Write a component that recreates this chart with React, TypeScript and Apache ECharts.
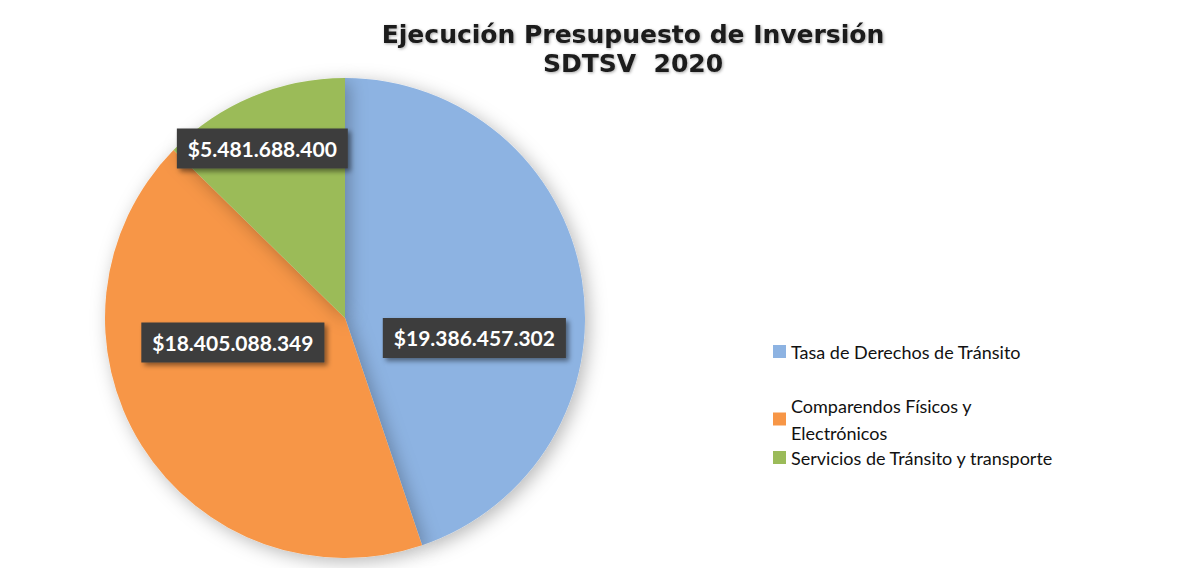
import React, { useEffect, useRef } from "react";
import * as echarts from "echarts";

const categories = [
  "Tasa de Derechos de Tránsito",
  "Comparendos Físicos y Electrónicos",
  "Servicios de Tránsito y transporte",
];
const values = [19386457302, 18405088349, 5481688400];
const colors = ["#8DB3E2", "#F79646", "#9BBB59"];
const labelOffsets = [
  [8, 40],
  [-8, -41],
  [-35, -56],
];
const legendLabels: Record<string, string> = {
  "Comparendos Físicos y Electrónicos": "Comparendos Físicos y\nElectrónicos",
};

function fmt(v: number): string {
  return "$" + String(Math.round(v)).replace(/\B(?=(\d{3})+(?!\d))/g, ".");
}

export default function App() {
  const ref = useRef<HTMLDivElement>(null);
  useEffect(() => {
    document.body.style.margin = "0";
    const chart = echarts.init(ref.current!, undefined, { renderer: "svg" });
    const legendTops = [333, 387, 439];
    chart.setOption({
      animation: false,
      backgroundColor: "#ffffff",
      color: colors,
      title: {
        text: "Ejecución Presupuesto de Inversión\nSDTSV  2020",
        left: 628,
        textAlign: "center",
        top: 15,
        textStyle: {
          fontFamily: "DejaVu Sans",
          fontWeight: "bold",
          fontSize: 25,
          lineHeight: 29,
          color: "#1a1a1a",
          textShadowColor: "rgba(0,0,0,0.35)",
          textShadowBlur: 3,
          textShadowOffsetX: 1,
          textShadowOffsetY: 1,
        },
      },
      legend: categories.map((c, i) => ({
        orient: "vertical",
        left: 768,
        top: legendTops[i],
        data: [c],
        icon: "rect",
        itemWidth: 13,
        itemHeight: 13,
        itemGap: 0,
        selectedMode: false,
        formatter: (n: string) => legendLabels[n] || n,
        textStyle: {
          fontFamily: "Lato",
          fontSize: 18,
          lineHeight: 27,
          color: "#111",
          padding: [0, 0, 0, 0],
        },
      })),
      series: [
        {
          type: "pie",
          center: [345, 318],
          radius: [0, 240],
          startAngle: 90,
          clockwise: true,
          data: categories.map((c, i) => ({ name: c, value: values[i] })),
          itemStyle: {
            shadowBlur: 18,
            shadowColor: "rgba(0,0,0,0.28)",
            shadowOffsetX: 4,
            shadowOffsetY: 4,
          },
          emphasis: { disabled: true },
          label: {
            show: true,
            position: "inner",
            formatter: (p: any) => fmt(p.value),
            color: "#ffffff",
            fontFamily: "Lato",
            fontWeight: "bold",
            fontSize: 21,
            backgroundColor: "#3d3d3d",
            padding: [10, 11, 9, 11],
            shadowColor: "rgba(0,0,0,0.45)",
            shadowBlur: 5,
            shadowOffsetX: 3,
            shadowOffsetY: 3,
          },
          labelLayout: (p: any) => ({
            dx: labelOffsets[p.dataIndex][0],
            dy: labelOffsets[p.dataIndex][1],
          }),
          labelLine: { show: false },
        },
      ],
    });
    return () => chart.dispose();
  }, []);
  return <div ref={ref} style={{ width: 1183, height: 568 }} />;
}
